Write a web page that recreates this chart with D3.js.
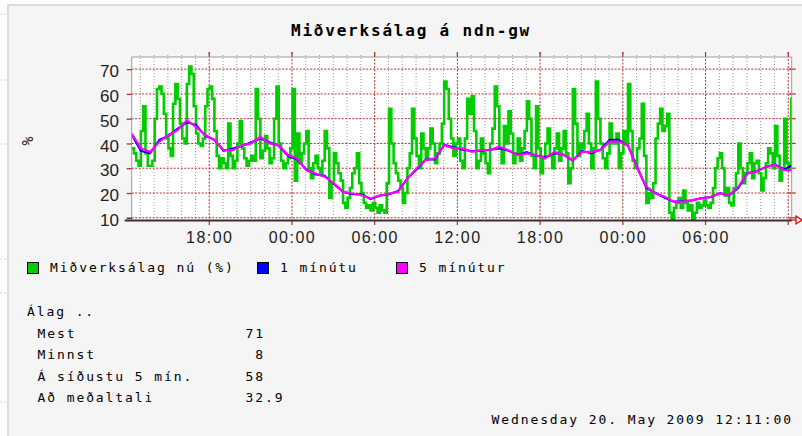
<!DOCTYPE html>
<html><head><meta charset="utf-8">
<script src="https://cdn.jsdelivr.net/npm/d3@7"></script>
<style>body{margin:0;background:#fff}svg{display:block}</style>
</head><body>
<svg id="c" width="802" height="436"></svg>
<script>
// ---------- data ----------
const title = "Miðverksálag á ndn-gw";
const yTicks = [10, 20, 30, 40, 50, 60, 70];
const xTickTimes = ["2009-05-18T18:00:00","2009-05-19T00:00:00","2009-05-19T06:00:00","2009-05-19T12:00:00","2009-05-19T18:00:00","2009-05-20T00:00:00","2009-05-20T06:00:00"];
const xTickLabels = ["18:00","00:00","06:00","12:00","18:00","00:00","06:00"];
const startTime = "2009-05-18T12:22:30";
const endTime = "2009-05-20T12:15:00";
const greenStepMin = 10;
const green = [
  38,36,33,31,45,55,36,31,31,33,50,62,63,60,52,42,38,35,56,64,58,48,42,40,64,71,68,55,44,40,39,42,55,62,63,58,
  45,35,30,34,32,30,48,35,30,33,40,49,38,34,31,33,35,33,62,50,34,37,43,38,32,34,50,63,40,33,30,32,34,38,62,25,
  44,32,36,40,45,30,26,32,35,30,28,33,45,38,18,24,36,32,28,25,16,14,18,22,28,30,36,24,20,16,14,15,13,16,14,12,
  15,13,12,24,54,40,32,28,25,22,16,20,30,36,54,42,35,30,44,38,34,38,46,40,32,36,40,48,65,62,50,42,35,40,42,33,
  30,42,58,52,59,45,30,33,42,36,32,28,40,46,63,55,38,32,47,40,53,44,32,36,42,33,38,45,57,50,35,30,55,38,28,34,
  40,46,35,30,38,44,33,38,45,36,24,30,62,48,35,40,38,45,52,40,30,38,65,50,40,34,30,36,48,40,40,44,30,36,45,40,
  64,45,33,30,38,42,56,35,16,20,18,24,42,48,54,45,47,52,12,9,14,16,18,14,21,16,13,15,9,12,16,14,15,17,15,14,
  16,22,30,34,36,30,19,22,16,15,22,28,40,30,24,28,32,36,26,32,33,28,21,26,32,38,36,30,47,35,25,30,50,32,30,58];
const avgStepMin = 40;
const avg5 = [44,38,36.6,40.7,43.4,45.4,49.4,46.7,43.4,41.4,
  37.3,37.3,39.3,40,42.7,40,39.3,35.3,34,29.2,
  27.9,26.6,23.9,20.5,19.8,19.2,17.8,18.9,19.8,20.5,
  25.9,29.9,33.3,34,39.3,38,38,36.6,37.3,37.3,
  38.7,37.3,35.3,36,35.3,34,36.6,35.3,33.3,36.6,
  36.6,37.3,40.7,40.7,39.3,30,22.5,19.8,18.5,16.5,
  16.5,17.1,17.8,18.5,19.8,19.2,22.5,27.9,28.6,30.6,
  31.3,29.2,29.2];
const avg1 = [43.5,37,36,41.5,43,46,48.5,47.5,43,41.5,
  37,38,39,40.5,42,40.5,39,35,33.5,29.5,
  27.5,27,23.5,20.5,19.5,19.5,17.5,19,19.5,20.8,
  26,29.5,33.5,33.5,39.5,38.5,37.5,37,37,37.5,
  38,37,35.5,36.5,35,34.5,36,35.5,33,37,
  36,37.5,41.5,41.5,39,30.5,22,20,18,16.5,
  16.8,17,18,18.3,20,19,22,28,28.8,30.5,
  31.5,29.5,31.5];
const legendLabels = ["Miðverksálag nú (%)", "1 mínútu", "5 mínútur"];
const legendColors = ["#00cc00", "#0000ff", "#ff00ff"];
const statHeader = "Álag ..";
const statLabels = ["Mest", "Minnst", "Á síðustu 5 mín.", "Að meðaltali"];
const statValues = ["71", " 8", "58", "32.9"];
const dateText = "Wednesday 20. May 2009 12:11:00";
const yLabel = "%";

// ---------- layout ----------
const svg = d3.select("#c");
const P = {l: 131.7, r: 791.7, t: 57, b: 220};
const t0 = new Date(startTime), t1 = new Date(endTime);
const x = d3.scaleTime().domain([t0, t1]).range([P.l, P.r]);
const y = d3.scaleLinear().domain([9.1, 74.9]).range([P.b, P.t]);
const mono = "'DejaVu Sans Mono', monospace";
const sans = "'Liberation Sans', Arial, sans-serif";
const red = "#b03030";

// page background / frame
svg.append("rect").attr("width", 802).attr("height", 436).attr("fill", "#ffffff");
svg.append("rect").attr("x", 8).attr("y", 5).attr("width", 800).attr("height", 440)
  .attr("fill", "#f5f5f5").attr("stroke", "#dcdcdc").attr("stroke-width", 2);
[14, 80, 144, 259, 293, 402].forEach(v => svg.append("line")
  .attr("x1", 0).attr("x2", 6).attr("y1", v).attr("y2", v)
  .attr("stroke", "#c8d4f0").attr("stroke-dasharray", "2,2"));

// title
svg.append("text").attr("x", 411).attr("y", 36).attr("text-anchor", "middle")
  .attr("font-family", mono).attr("font-weight", "bold").attr("font-size", 16)
  .attr("letter-spacing", "1.8px").attr("fill", "#000").text(title);

// plot area
svg.append("rect").attr("x", P.l).attr("y", P.t).attr("width", P.r - P.l).attr("height", P.b - P.t)
  .attr("fill", "#ffffff");

// grid
const hours = d3.timeHour.range(d3.timeHour.ceil(t0), t1);
const g = svg.append("g");
g.selectAll("line.minor").data(hours.filter(h => h.getHours() % 6 !== 0)).join("line")
  .attr("x1", d => x(d)).attr("x2", d => x(d)).attr("y1", P.t - 2).attr("y2", P.b + 2)
  .attr("stroke", "#9c9c9c").attr("stroke-width", 1).attr("stroke-dasharray", "1,2");
g.selectAll("line.hmaj").data(yTicks).join("line")
  .attr("x1", P.l).attr("x2", P.r).attr("y1", d => y(d)).attr("y2", d => y(d))
  .attr("stroke", red).attr("stroke-width", 1).attr("stroke-dasharray", "2,1.5");
const majors = hours.filter(h => h.getHours() % 6 === 0);
g.selectAll("line.vmaj").data(majors).join("line")
  .attr("x1", d => x(d)).attr("x2", d => x(d)).attr("y1", P.t - 5).attr("y2", P.b)
  .attr("stroke", red).attr("stroke-width", 1).attr("stroke-dasharray", "2,1.5");
g.selectAll("line.vmajt").data(majors).join("line")
  .attr("x1", d => x(d)).attr("x2", d => x(d)).attr("y1", P.b).attr("y2", P.b + 5)
  .attr("stroke", red).attr("stroke-width", 1.2);
g.selectAll("line.vmajtop").data(majors).join("line")
  .attr("x1", d => x(d)).attr("x2", d => x(d)).attr("y1", P.t - 5).attr("y2", P.t)
  .attr("stroke", red).attr("stroke-width", 1.2);
g.selectAll("line.rt").data(yTicks).join("line")
  .attr("x1", P.r - 3).attr("x2", P.r + 4).attr("y1", d => y(d)).attr("y2", d => y(d))
  .attr("stroke", red).attr("stroke-width", 1.2);

// clip
svg.append("clipPath").attr("id", "clip").append("rect")
  .attr("x", P.l).attr("y", P.t).attr("width", P.r - P.l).attr("height", P.b - P.t);

// series
const gT = i => d3.timeMinute.offset(t0, i * greenStepMin);
const aT = i => d3.timeMinute.offset(t0, i * avgStepMin);
const greenPts = green.map((v, i) => [gT(i), v]).concat([[gT(green.length), green[green.length - 1]]]);
const series = svg.append("g").attr("clip-path", "url(#clip)");
series.append("path").datum(greenPts)
  .attr("d", d3.line().x(d => x(d[0])).y(d => y(d[1])).curve(d3.curveStepAfter))
  .attr("fill", "none").attr("stroke", "#00cc00").attr("stroke-width", 2.6).attr("stroke-linejoin", "miter");
series.append("path").datum(avg1.map((v, i) => [aT(i), v]))
  .attr("d", d3.line().x(d => x(d[0])).y(d => y(d[1])))
  .attr("fill", "none").attr("stroke", "#0000ff").attr("stroke-width", 2);
series.append("path").datum(avg5.map((v, i) => [aT(i), v]))
  .attr("d", d3.line().x(d => x(d[0])).y(d => y(d[1])))
  .attr("fill", "none").attr("stroke", "#ff00ff").attr("stroke-width", 2.2);

// frame
svg.append("line").attr("x1", P.l).attr("x2", P.r).attr("y1", P.t).attr("y2", P.t).attr("stroke", "#9a9a9a");
svg.append("line").attr("x1", P.r).attr("x2", P.r).attr("y1", P.t).attr("y2", P.b).attr("stroke", "#9a9a9a");
svg.append("line").attr("x1", P.l).attr("x2", P.l).attr("y1", P.t).attr("y2", P.b).attr("stroke", "#9a9a9a");

// y axis
const yAx = svg.append("g").attr("transform", `translate(${P.l},0)`)
  .call(d3.axisLeft(y).tickValues(yTicks).tickSize(5).tickPadding(7.7).tickFormat(d3.format("d")));
yAx.select(".domain").remove();
yAx.selectAll(".tick line").attr("stroke", d => d === 10 ? "#222" : red).attr("stroke-width", 1.3);
yAx.selectAll(".tick text").attr("font-family", sans).attr("font-size", 17).attr("fill", "#222").attr("dy", "0.45em");

// x axis
const xAx = svg.append("g").attr("transform", `translate(0,${P.b})`)
  .call(d3.axisBottom(x).tickValues(xTickTimes.map(s => new Date(s))).tickSize(0)
    .tickFormat((d, i) => xTickLabels[i]));
xAx.select(".domain").remove();
xAx.selectAll(".tick text").attr("font-family", sans).attr("font-size", 16).attr("fill", "#222")
  .attr("letter-spacing", "1.5px").attr("y", 23).attr("dy", 0);
svg.append("line").attr("x1", P.l - 7).attr("x2", P.r).attr("y1", P.b + 0.5).attr("y2", P.b + 0.5)
  .attr("stroke", "#333").attr("stroke-width", 2);
svg.append("line").attr("x1", P.r - 3).attr("x2", 796).attr("y1", P.b).attr("y2", P.b).attr("stroke", "#e00000").attr("stroke-width", 1.2);
svg.append("path").attr("d", `M796,${P.b - 4}L802,${P.b}L796,${P.b + 4}Z`)
  .attr("fill", "none").attr("stroke", "#e00000").attr("stroke-width", 1.2);

// y label
svg.append("text").attr("transform", "translate(28,141) rotate(-90)").attr("text-anchor", "middle")
  .attr("dominant-baseline", "middle").attr("font-family", mono).attr("font-size", 15).attr("fill", "#222").text(yLabel);

// legend
const legX = [27, 257, 396];
legendLabels.forEach((lab, i) => {
  svg.append("rect").attr("x", legX[i] + 0.5).attr("y", 262.5).attr("width", 11).attr("height", 11)
    .attr("fill", legendColors[i]).attr("stroke", "#000").attr("stroke-width", 1);
  svg.append("text").attr("x", legX[i] + 23).attr("y", 272).attr("font-family", mono).attr("font-size", 13)
    .attr("letter-spacing", "1.9px").attr("fill", "#000").text(lab);
});

// stats
const txt = (s, xx, yy) => svg.append("text").attr("x", xx).attr("y", yy).attr("font-family", mono)
  .attr("font-size", 13).attr("letter-spacing", "1.9px").attr("fill", "#000")
  .style("white-space", "pre").text(s);
txt(statHeader, 27, 316);
statLabels.forEach((s, i) => {
  txt(s, 37.5, 337.5 + i * 21.5);
  txt(statValues[i], 245.5, 337.5 + i * 21.5);
});
txt(dateText, 491.5, 424);
</script>
</body></html>
